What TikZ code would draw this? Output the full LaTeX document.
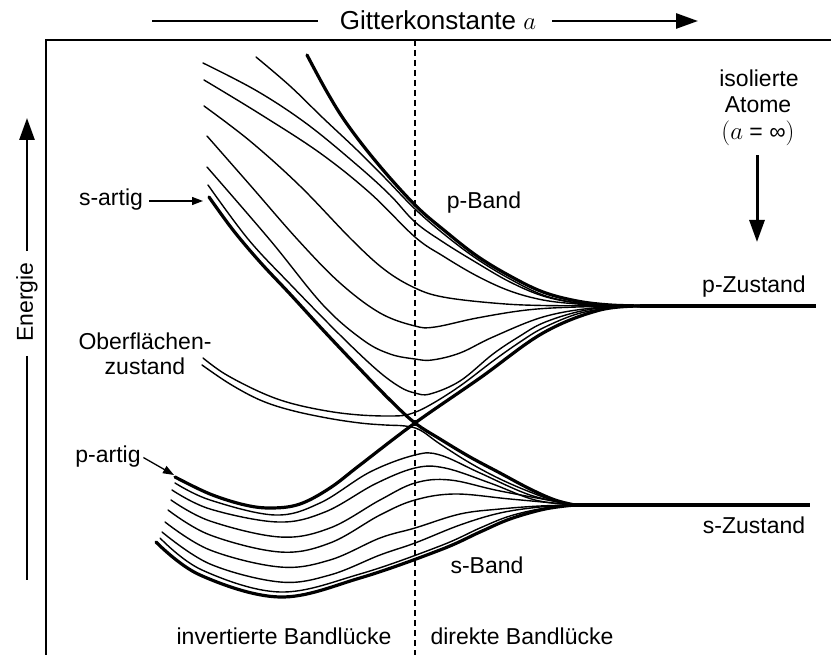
\documentclass[tikz,border=0pt]{standalone}
\usepackage{fontspec}
\setmainfont{Liberation Sans}
\usetikzlibrary{arrows.meta}
\newcommand{\lblfont}{\fontsize{23}{26}\selectfont}
\newcommand{\ttlfont}{\fontsize{26}{30}\selectfont}
\tikzset{
  lbl/.style={font=\lblfont, inner sep=0pt, anchor=base},
  thinb/.style={line width=1.4pt, line cap=round, line join=round},
  thickb/.style={line width=3.2pt, line cap=round, line join=round},
  bigarrow/.style={line width=2.8pt, -{Triangle[length=22pt,width=15pt]}},
  plainbar/.style={line width=2.8pt},
  smallarrow/.style={line width=1.3pt, -{Triangle[length=11pt,width=8pt]}},
  framel/.style={line width=1.6pt},
  divider/.style={line width=1.3pt, dash pattern=on 6pt off 4pt},
  levelline/.style={line width=3.2pt},
}
\begin{document}
\begin{tikzpicture}[x=1pt,y=-1pt]
\useasboundingbox (0,0) rectangle (831,655);

% frame and divider
\draw[framel] (46,655) -- (46,40) -- (831,40);
\draw[divider] (415,40) -- (415,655);

% title
\node[lbl, font=\ttlfont] (title) at (438,30) {Gitterkonstante $a$};
\coordinate (tl) at (152,21);
\coordinate (tr) at (698,21);
\draw[plainbar, shorten <=22pt] (title.west |- tl) -- (tl);
\draw[bigarrow, shorten <=16pt] (title.east |- tr) -- (tr);

% Energie
\node[font=\lblfont, inner sep=0pt, rotate=90] (energie) at (27,302) {Energie};
\coordinate (etop) at (27,118);
\coordinate (ebot) at (27,580);
\draw[bigarrow, shorten <=11pt] (energie.east) -- (etop);
\draw[plainbar, shorten <=14pt] (energie.west) -- (ebot);

% isolated atoms
\node[lbl] (iso) at (759,87) {isolierte};
\node[lbl] (atome) at (758,113) {Atome};
\node[lbl] (ainf) at (758,140) {$(a$ = ∞$)$};
\coordinate (atip) at (757,242);
\draw[bigarrow, line width=3pt, shorten <=9pt] (ainf.south -| atip) -- (atip);

% atomic levels
\coordinate (pconv) at (640,306);
\coordinate (pend) at (816,306);
\coordinate (sconv) at (566,505);
\coordinate (send) at (810,505);
\draw[levelline] (pconv) -- (pend);
\draw[levelline] (sconv) -- (send);

% labels
\node[lbl] (pzu) at (754,293) {p-Zustand};
\node[lbl] (szu) at (754,533) {s-Zustand};
\node[lbl] (pband) at (484,209) {p-Band};
\node[lbl] (sband) at (487,573) {s-Band};
\node[lbl] (inv) at (284,644) {invertierte Bandlücke};
\node[lbl] (dir) at (522,644) {direkte Bandlücke};
\node[lbl] (ober) at (145,350) {Oberflächen-};
\node[lbl] (zust) at (145,375) {zustand};
\node[lbl] (sartig) at (111,206) {s-artig};
\node[lbl] (partig) at (108,462) {p-artig};
\coordinate (stip) at (203,201);
\coordinate (ptip) at (174,475);
\draw[smallarrow, shorten <=6pt] (sartig.east |- stip) -- (stip);
\draw[smallarrow, shorten <=3pt] (partig.east) -- (ptip);

% ---- p band ----
\draw[thickb] plot[smooth,tension=.6] coordinates {(307,55) (327,92) (347,124) (378,164) (415,205) (445,231) (477,256) (510,276) (543,292) (577,301) (610,305) (645,306)};
\draw[thinb] plot[smooth,tension=.6] coordinates {(256,57) (290,86) (323,118) (357,150) (385,178) (415,209) (445,235) (477,259) (510,279) (543,295) (577,303) (610,305.5) (645,306)};
\draw[thinb] plot[smooth,tension=.6] coordinates {(203,63) (257,91) (307,124) (357,165) (390,195) (415,222) (443,242) (477,263) (510,282) (543,296) (577,303) (610,305.5) (645,306)};
\draw[thinb] plot[smooth,tension=.6] coordinates {(204,80) (260,114) (320,153) (370,193) (415,237) (443,256) (477,276) (510,291) (543,300) (577,304) (610,306) (645,306)};
\draw[thinb] plot[smooth,tension=.6] coordinates {(204,106) (250,141) (300,186) (352,240) (385,270) (415,288) (443,297) (493,303) (543,305.5) (645,306)};
\draw[thinb] plot[smooth,tension=.6] coordinates {(207,136) (250,185) (298,240) (340,283) (380,313) (415,326) (435,327) (477,318) (527,310) (577,307) (645,306)};
\draw[thinb] plot[smooth,tension=.6] coordinates {(207,167) (270,240) (323,305) (363,340) (390,354) (415,359) (432,360) (460,353) (493,337) (543,317) (593,308) (645,306)};
\draw[thinb] plot[smooth,tension=.6] coordinates {(208,185) (248,239) (290,284) (340,335) (377,370) (400,387) (415,393) (430,394) (460,381) (493,354) (520,336) (543,323) (577,312) (610,307) (645,306)};

% s-artig thick band (crosses down into s band)
\draw[thickb] plot[smooth,tension=.6] coordinates {(209,197) (233,230) (260,262) (290,294) (323,330) (357,366) (390,400) (415,423) (440,439) (470,457) (500,473) (530,489) (555,500) (575,505)};
% p-artig thick band (crosses up into p band)
\draw[thickb] plot[smooth,tension=.6] coordinates {(175,477) (210,494) (245,505) (272,508) (300,504) (330,488) (360,465) (415,423) (480,378) (543,333) (600,310) (645,306)};

% surface state (double line)
\draw[thinb] plot[smooth,tension=.6] coordinates {(203,358) (225,374) (260,392) (290,403) (327,411) (360,415) (393,416) (410,414) (430,405) (460,386) (493,361) (520,342) (543,328) (577,314) (610,308) (645,306)};
\draw[thinb] plot[smooth,tension=.6] coordinates {(202,365) (230,384) (260,400) (290,410) (327,418) (360,423) (385,425) (405,426) (420,430) (440,444) (470,463) (500,479) (530,492) (555,501) (575,505)};

% ---- s band ----
\draw[thinb] plot[smooth,tension=.6] coordinates {(175,483) (210,500) (275,515) (320,503) (370,472) (415,455) (440,455) (480,473) (530,495) (575,505)};
\draw[thinb] plot[smooth,tension=.6] coordinates {(172,490) (210,509) (278,522) (325,512) (375,484) (415,468) (445,468) (490,483) (535,500) (575,505)};
\draw[thinb] plot[smooth,tension=.6] coordinates {(171,500) (210,521) (280,537) (330,528) (380,500) (415,483) (450,480) (500,491) (575,505)};
\draw[thinb] plot[smooth,tension=.6] coordinates {(168,510) (210,535) (280,552) (330,543) (380,515) (415,500) (455,494) (510,499) (575,505)};
\draw[thinb] plot[smooth,tension=.6] coordinates {(165,522) (210,550) (280,567) (330,560) (380,538) (415,528) (460,514) (500,509) (540,506) (575,505)};
\draw[thinb] plot[smooth,tension=.6] coordinates {(162,532) (210,564) (280,582) (330,575) (380,555) (415,543) (460,525) (500,513) (540,507) (575,505)};
\draw[thinb] plot[smooth,tension=.6] coordinates {(160,538) (202,570) (280,592) (360,574) (440,546) (480,528) (510,516) (545,508) (575,505)};
\draw[thickb] plot[smooth,tension=.6] coordinates {(156,542) (200,575) (280,597) (360,578) (440,550) (480,532) (510,519) (545,509) (575,505)};

\end{tikzpicture}
\end{document}
